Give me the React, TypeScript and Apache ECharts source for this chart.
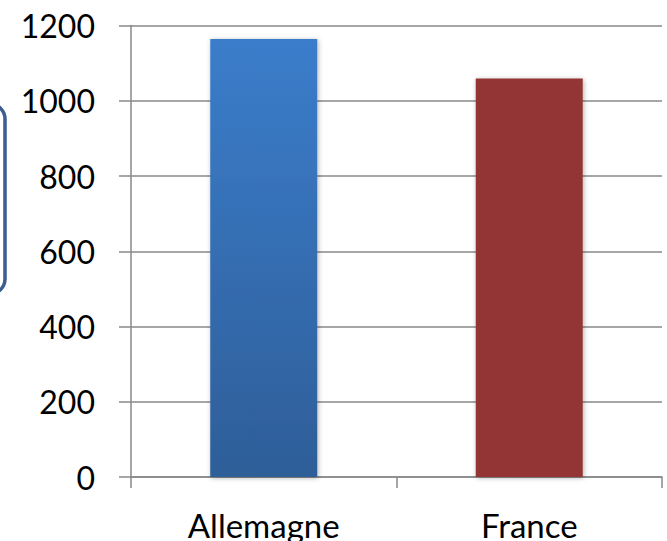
import React, { useEffect, useRef } from "react";
import * as echarts from "echarts";

const categories = ["Allemagne", "France"];
const values = [1164, 1059];
const yTicks = [0, 200, 400, 600, 800, 1000, 1200];

export default function App() {
  const ref = useRef<HTMLDivElement>(null);
  useEffect(() => {
    const chart = echarts.init(ref.current!, null, { renderer: "svg" });
    const gray = "#888888";
    const font = "Lato, 'Open Sans', sans-serif";
    chart.setOption({
      animation: false,
      backgroundColor: "#ffffff",
      grid: { left: 131, right: 5, top: 25.5, bottom: 61.5, containLabel: false },
      xAxis: {
        type: "category",
        data: categories,
        axisLine: { lineStyle: { color: gray, width: 1.5 } },
        axisTick: { show: true, length: 11, lineStyle: { color: gray, width: 1.5 } },
        axisLabel: { color: "#000", fontSize: 33, fontFamily: font, margin: 31 },
      },
      yAxis: {
        type: "value",
        min: yTicks[0],
        max: yTicks[yTicks.length - 1],
        interval: 200,
        axisLine: { show: true, lineStyle: { color: gray, width: 1.5 } },
        axisTick: { show: true, length: 12, lineStyle: { color: gray, width: 1.5 } },
        splitLine: { lineStyle: { color: gray, width: 1.5 } },
        axisLabel: {
          color: "#000",
          fontSize: 32,
          fontFamily: font,
          margin: 36,
          formatter: (v: number) => String(v),
        },
      },
      series: [
        {
          type: "bar",
          barWidth: 107,
          data: values.map((v, i) => ({
            value: v,
            itemStyle: {
              color:
                i === 0
                  ? new echarts.graphic.LinearGradient(0, 0, 0, 1, [
                      { offset: 0, color: "#3B7DCB" },
                      { offset: 1, color: "#2E5E98" },
                    ])
                  : "#943634",
              shadowBlur: 5,
              shadowColor: "rgba(0,0,0,0.3)",
              shadowOffsetX: 1,
              shadowOffsetY: 1,
            },
          })),
        },
      ],
      graphic: [
        {
          type: "rect",
          shape: { x: -60, y: 104, width: 65, height: 190, r: 15 },
          style: { fill: "none", stroke: "#3B5E8E", lineWidth: 3.5 },
        },
      ],
    });
    return () => chart.dispose();
  }, []);
  return <div ref={ref} style={{ width: 667, height: 541, position: "fixed", left: 0, top: 0 }} />;
}
